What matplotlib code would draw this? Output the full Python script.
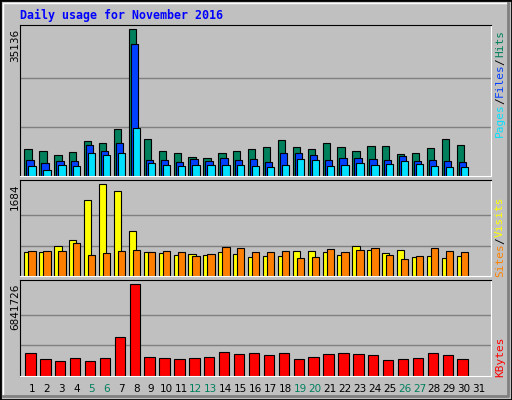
import matplotlib
matplotlib.use("Agg")
import matplotlib.pyplot as plt
from matplotlib.patches import Rectangle
from matplotlib.lines import Line2D
import numpy as np

days = list(range(1, 32))
weekend = [5, 6, 12, 13, 19, 20, 26, 27]
hits = [6453,5975,5019,5736,8365,7887,11233,35136,8843,5975,5497,4541,4302,5497,5975,
        6453,6931,8604,6931,6453,7887,6931,5975,7170,7170,5258,5497,6692,8843,7409]
files = [3824,3107,3585,3585,7409,5975,7887,31549,3824,3824,3346,4063,3585,4302,3824,
         4063,3346,5497,5497,5019,3824,4302,4302,4063,3824,4780,3585,3824,3585,3346]
pages = [2390,1434,2629,2390,5497,5019,5497,11472,3107,2629,2390,2629,2629,2629,2629,
         2390,2151,2629,4063,3824,2390,2629,3107,2629,2868,3585,2868,2390,2151,2151]
visits = [439,439,549,659,1391,1684,1556,824,439,421,384,403,384,439,403,
          348,366,366,458,458,439,384,549,476,421,476,348,366,329,366]
sites = [458,458,458,604,384,421,458,476,439,458,439,366,403,531,512,
         439,439,458,329,348,494,439,476,512,384,311,366,512,458,439]
kbytes = [1673000,1223500,1073700,1298400,1073700,1298400,2871600,6841726,1373400,1298400,
          1223500,1298400,1373400,1747900,1598100,1673000,1523200,1673000,1223500,1373400,
          1598100,1673000,1598100,1523200,1148600,1223500,1298400,1673000,1523200,1223500]

W, H = 512, 400
BG = "#C0C0C0"
fig = plt.figure(figsize=(W/100, H/100), dpi=100, facecolor=BG)

def ax_px(x0, y0, x1, y1):
    return fig.add_axes([x0/W, 1-y1/H, (x1-x0)/W, (y1-y0)/H])

def fx(x): return x/W
def fy(y): return 1-y/H

fig.add_artist(Rectangle((0,0),1,1,transform=fig.transFigure,fill=False,ec="black",lw=2))
fig.add_artist(Line2D([fx(3),fx(3),fx(508)],[fy(396),fy(3),fy(3)],transform=fig.transFigure,color="white",lw=1))
fig.add_artist(Line2D([fx(3),fx(508),fx(508)],[fy(396),fy(396),fy(3)],transform=fig.transFigure,color="#808080",lw=2))

XL = (0.2, 31.8)
x = np.array(days[:30])
pxday = 471/(XL[1]-XL[0])

def style(ax, ymax, gridvals):
    ax.set_facecolor(BG)
    ax.set_xlim(*XL)
    ax.set_ylim(0, ymax)
    for g in gridvals:
        ax.axhline(g, color="#808080", lw=1, zorder=0)
    ax.set_xticks([]); ax.set_yticks([])
    ax.spines["left"].set_color("black"); ax.spines["top"].set_color("black")
    ax.spines["right"].set_color("white"); ax.spines["bottom"].set_color("white")

w = 7.3/pxday
a1 = ax_px(20, 25, 491, 176.5)
style(a1, 36162, [35136/3, 2*35136/3])
a1.bar(x-0.5, hits, width=w, align="edge", color="#00805C", ec="black", lw=0.8)
a1.bar(x-0.5+2/pxday, files, width=w, align="edge", color="#0040FF", ec="black", lw=0.8)
a1.bar(x-0.5+4/pxday, pages, width=w, align="edge", color="#00E0FF", ec="black", lw=0.8)

a2 = ax_px(20, 180.3, 491, 276.3)
style(a2, 1757, [1684/3, 2*1684/3])
a2.bar(x-0.5, visits, width=w, align="edge", color="#FFFF00", ec="black", lw=0.8)
a2.bar(x-0.5+4/pxday, sites, width=w, align="edge", color="#FF8000", ec="black", lw=0.8)

a3 = ax_px(20, 280, 491, 375.7)
style(a3, 7171000, [6841726/3, 2*6841726/3])
a3.bar(x-0.45, kbytes, width=10.4/pxday, align="edge", color="#FF0000", ec="black", lw=0.8)

mono = "DejaVu Sans Mono"
fig.text(fx(20), fy(15), "Daily usage for November 2016", color="#0000FF", family=mono,
         weight="bold", fontsize=8.4, va="center", ha="left")
for txt, y in [("35136", 29), ("1684", 183), ("6841726", 284)]:
    fig.text(fx(15), fy(y), txt, rotation=90, family="DejaVu Sans", fontsize=7.5,
             ha="center", va="top", color="black")

def rlabel(parts, ybottom):
    y = ybottom
    for txt, col in parts:
        fig.text(fx(500), fy(y), txt, rotation=90, family=mono, fontsize=8,
                 color=col, ha="center", va="bottom")
        y -= len(txt)*6.3 + 1
rlabel([("Pages", "#00E0FF"), ("/", "black"), ("Files", "#0040FF"), ("/", "black"), ("Hits", "#00805C")], 137)
rlabel([("Sites", "#FF8000"), ("/", "black"), ("Visits", "#FFFF00")], 277)
rlabel([("KBytes", "#FF0000")], 377)

for d in days:
    xp = 20 + (d - XL[0]) * pxday
    fig.text(fx(xp), fy(389), str(d), ha="center", va="center", fontsize=7.5,
             family="DejaVu Sans", color="#00805C" if d in weekend else "black")

fig.savefig("out.png", dpi=100, facecolor=BG)
